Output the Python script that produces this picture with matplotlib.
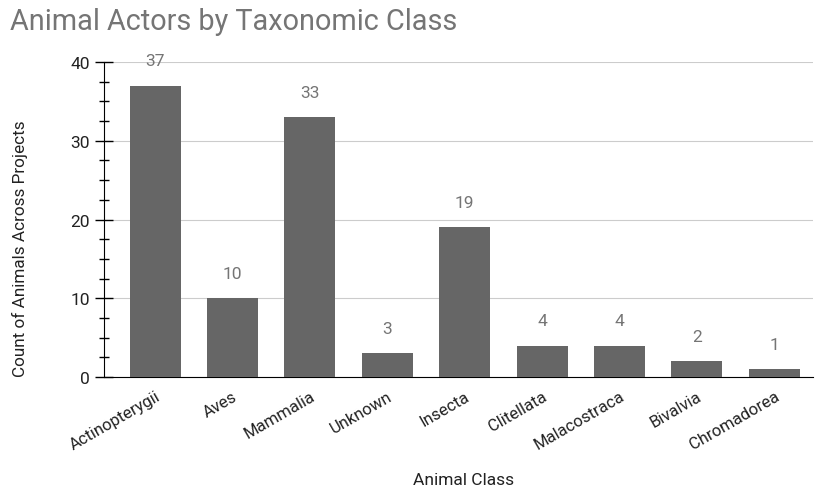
import matplotlib.pyplot as plt
from matplotlib.ticker import MultipleLocator

plt.rcParams['font.family'] = ['Roboto', 'DejaVu Sans']

# data
classes = ['Actinopterygii', 'Aves', 'Mammalia', 'Unknown', 'Insecta',
           'Clitellata', 'Malacostraca', 'Bivalvia', 'Chromadorea']
counts = [37, 10, 33, 3, 19, 4, 4, 2, 1]

fig = plt.figure(figsize=(8.15, 4.89), dpi=100)
ax = fig.add_axes([0.1276, 0.227, 0.870, 0.644])

x = range(len(classes))
bars = ax.bar(x, counts, width=0.66, color='#666666', zorder=3)

# value labels above bars
for xi, c in zip(x, counts):
    ax.annotate(str(c), (xi, c), xytext=(0, 18), textcoords='offset points',
                ha='center', va='center', fontsize=12.5, color='#757575', zorder=4)

ax.set_xlim(-0.66, 8.5)
ax.set_ylim(0, 40)
ax.yaxis.set_major_locator(MultipleLocator(10))
ax.yaxis.set_minor_locator(MultipleLocator(2.5))
ax.grid(axis='y', color='#cccccc', linewidth=0.8, zorder=0)

ax.set_xticks(list(x))
ax.set_xticklabels(classes, rotation=30, ha='right', rotation_mode='anchor',
                   fontsize=12, color='#222222')
ax.tick_params(axis='x', length=0, pad=8)
ax.tick_params(axis='y', which='major', direction='inout', length=13,
               width=1, labelsize=12.5, colors='black', labelcolor='#222222')
ax.tick_params(axis='y', which='minor', direction='inout', length=6.5, width=1)

for s in ['top', 'right']:
    ax.spines[s].set_visible(False)
ax.spines['left'].set_color('black')
ax.spines['bottom'].set_color('black')

fig.text(20 / 815, 1 - 249 / 489, 'Count of Animals Across Projects', fontsize=12.3,
         color='#222222', rotation=90, ha='center', va='center')
fig.text(464 / 815, 1 - 481 / 489, 'Animal Class', fontsize=12.5,
         color='#222222', ha='center', va='center')

fig.text(0.012, 0.955, 'Animal Actors by Taxonomic Class', fontsize=20.8,
         color='#757575', ha='left', va='center')

fig.savefig('out.png', dpi=100)
